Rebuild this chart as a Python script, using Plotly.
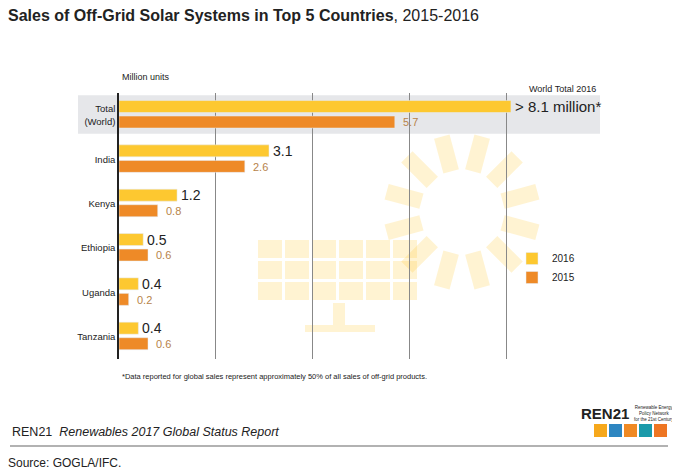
import plotly.graph_objects as go
import math

categories = ["Total<br>(World)", "India", "Kenya", "Ethiopia", "Uganda", "Tanzania"]
v2016 = [8.1, 3.1, 1.2, 0.5, 0.4, 0.4]
v2015 = [5.7, 2.6, 0.8, 0.6, 0.2, 0.6]
labels2016 = ["> 8.1 million*", "3.1", "1.2", "0.5", "0.4", "0.4"]
labels2015 = ["5.7", "2.6", "0.8", "0.6", "0.2", "0.6"]

C16, C15 = "#FDC830", "#EE8A27"
OFF = 8
L, T = 119 - OFF, 93 - OFF
PW, PH = 481, 266
W, H = 680, 475
R, B = W - L - PW, H - T - PH
def px(x): return (x - OFF - L) / PW
def py(y): return (T + PH - (y - OFF)) / PH

ys = list(range(len(categories)))
fig = go.Figure()
fig.add_bar(y=ys, x=v2016, orientation="h", name="2016", marker_color=C16,
            offset=-0.33, width=0.27)
fig.add_bar(y=ys, x=v2015, orientation="h", name="2015", marker_color=C15,
            offset=0.02, width=0.27)

shapes = []
shapes.append(dict(type="rect", xref="paper", yref="y", x0=px(78), x1=px(600), y0=-0.45, y1=0.42,
                   fillcolor="#E6E7EA", line_width=0, layer="below"))
cx, cy = 462, 212
sun = "rgba(253,200,48,0.22)"
for k in range(12):
    a = math.radians(k * 30 + 15)
    r1, r2, w = 42, 78, 8
    pts = []
    for r, s in [(r1, -1), (r2, -1), (r2, 1), (r1, 1)]:
        x = cx + r * math.cos(a) + s * w * -math.sin(a)
        y = cy + r * math.sin(a) + s * w * math.cos(a)
        pts.append((px(x), py(y)))
    path = "M " + " L ".join(f"{a_},{b_}" for a_, b_ in pts) + " Z"
    shapes.append(dict(type="path", xref="paper", yref="paper", path=path,
                       fillcolor=sun, line_width=0, layer="below"))
for i in range(6):
    for j in range(3):
        x0 = 258 + i * 27; y0 = 240 + j * 21
        shapes.append(dict(type="rect", xref="paper", yref="paper", x0=px(x0), x1=px(x0 + 24),
                           y0=py(y0), y1=py(y0 + 18), fillcolor=sun, line_width=0, layer="below"))
shapes.append(dict(type="rect", xref="paper", yref="paper", x0=px(333), x1=px(345), y0=py(303), y1=py(325),
                   fillcolor=sun, line_width=0, layer="below"))
shapes.append(dict(type="rect", xref="paper", yref="paper", x0=px(305), x1=px(375), y0=py(325), y1=py(332),
                   fillcolor=sun, line_width=0, layer="below"))
shapes.append(dict(type="line", xref="paper", yref="paper", x0=px(10), x1=px(668), y0=py(446), y1=py(446),
                   line=dict(color="#999", width=1.5)))
logo_cols = ["#F6A81C", "#2E86C1", "#F08A24", "#1B9AAA", "#EE7623"]
for i, c in enumerate(logo_cols):
    shapes.append(dict(type="rect", xref="paper", yref="paper", x0=px(594 + i * 15), x1=px(607 + i * 15),
                       y0=py(424), y1=py(437), fillcolor=c, line_width=0))

ann = []
for i in range(len(categories)):
    big = i == 0
    ann.append(dict(x=v2016[i], y=i - 0.195, xref="x", yref="y", text=labels2016[i], showarrow=False,
                    xanchor="left", xshift=2, font=dict(size=15 if big else 14, color="#222")))
    ann.append(dict(x=v2015[i], y=i + 0.16, xref="x", yref="y", text=labels2015[i], showarrow=False,
                    xanchor="left", xshift=6, font=dict(size=11, color="#B7834A")))
def t(x, y, text, size, color="#222", xa="left", ya="middle", **kw):
    ann.append(dict(x=px(x), y=py(y), xref="paper", yref="paper", text=text, showarrow=False,
                    xanchor=xa, yanchor=ya, font=dict(size=size, color=color), **kw))
t(6, 15, "<b>Sales of Off-Grid Solar Systems in Top 5 Countries</b>, 2015-2016", 16)
t(120, 77, "Million units", 9)
t(598, 89, "World Total 2016", 9, xa="right")
t(120, 376, "*Data reported for global sales represent approximately 50% of all sales of off-grid products.", 7.5)
t(10, 432, "REN21  <i>Renewables 2017 Global Status Report</i>", 12.5)
t(6, 463, "Source: GOGLA/IFC.", 12)
t(631, 413, "<b>REN21</b>", 15, xa="right")
t(632, 413, "Renewable Energy<br>Policy Network<br>for the 21st Century", 4.5)

fig.update_layout(
    width=W, height=H, margin=dict(l=L, r=R, t=T, b=B, autoexpand=False),
    paper_bgcolor="white", plot_bgcolor="rgba(0,0,0,0)",
    font=dict(family="Liberation Sans, sans-serif", size=10, color="#222"),
    barmode="overlay", showlegend=True,
    legend=dict(x=px(512), y=py(244), xanchor="left", yanchor="top", traceorder="normal",
                font=dict(size=10), itemwidth=30, tracegroupgap=8, bgcolor="rgba(0,0,0,0)"),
    xaxis=dict(range=[0, 9.94], dtick=2, showticklabels=False, showgrid=True, gridcolor="#888",
               gridwidth=1, zeroline=False, ticks="", layer="above traces", automargin=False),
    yaxis=dict(range=[5.5, -0.5], tickvals=ys, ticktext=categories, showgrid=False, zeroline=False,
               showline=True, linecolor="#222", linewidth=1.5, ticks="", ticklen=0,
               tickfont=dict(size=9.5), automargin=False),
    shapes=shapes, annotations=ann,
)
fig.write_html("out.html")
